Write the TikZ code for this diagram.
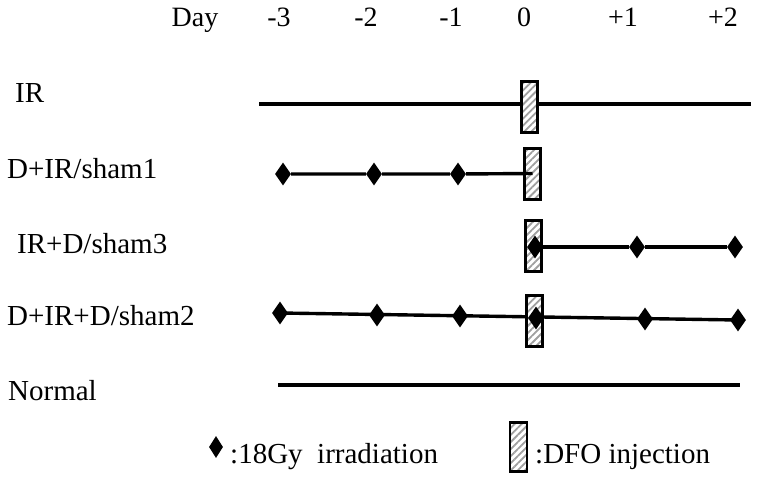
\documentclass[tikz,border=0pt]{standalone}
\usepackage{fontspec}
\setmainfont{Liberation Serif}
\usetikzlibrary{shapes.geometric,patterns.meta}
\tikzset{
  lbl/.style={font=\fontsize{29}{32}\selectfont, inner sep=0pt, anchor=base west},
  day/.style={font=\fontsize{28}{30}\selectfont, inner sep=0pt, anchor=base},
  tl/.style={line width=3.4pt},
  dmd/.style={diamond, fill=black, inner sep=0pt, minimum width=16pt, minimum height=23pt},
  dfo/.style={draw=black, line width=3pt, preaction={fill=white}, pattern={Lines[angle=45,distance=5pt,line width=1.8pt]}, pattern color=gray!75, minimum width=16pt, minimum height=51pt, inner sep=0pt},
}
\begin{document}
\begin{tikzpicture}[x=1pt,y=-1pt]
\useasboundingbox (0,0) rectangle (758,479);
% day header
\node[day] (hday) at (195,27) {Day};
\node[day] (hm3) at (279,27) {-3};
\node[day] (hm2) at (366,27) {-2};
\node[day] (hm1) at (451,27) {-1};
\node[day] (h0) at (524,27) {0};
\node[day] (hp1) at (623,27) {+1};
\node[day] (hp2) at (723,27) {+2};
% row labels
\node[lbl] (lIR) at (15,102) {IR};
\node[lbl] (lS1) at (7,178) {D+IR/sham1};
\node[lbl] (lS3) at (17,253) {IR+D/sham3};
\node[lbl] (lS2) at (7,325) {D+IR+D/sham2};
\node[lbl] (lN) at (8,400) {Normal};
% row IR
\coordinate (a1) at (259,104);
\coordinate (a2) at (751,104);
\draw[tl] (a1) -- (a2);
\node[dfo] (bIR) at (529.5,107) {};
% row sham1
\node[dfo] (bS1) at (532.5,173.5) {};
\node[dmd] (s1a) at (283,174) {};
\node[dmd] (s1b) at (374,174) {};
\node[dmd] (s1c) at (458,174) {};
\draw[tl] (s1a) -- (s1b) -- (s1c) -- (bS1.center);
% row sham3
\node[dfo] (bS3) at (533,246) {};
\node[dmd] (s3a) at (535,247) {};
\node[dmd] (s3b) at (637,247) {};
\node[dmd] (s3c) at (735,247) {};
\draw[tl] (s3a) -- (s3b) -- (s3c);
% row sham2
\coordinate (s2p) at (280,313);
\coordinate (s2q) at (738,320);
\draw[tl] (s2p) -- (s2q);
\node[dfo] (bS2) at (534,320.5) {};
\node[dmd] (s2a) at (s2p) {};
\node[dmd] (s2b) at (377,315) {};
\node[dmd] (s2c) at (460,316) {};
\node[dmd] (s2d) at (536,318) {};
\node[dmd] (s2e) at (645,319) {};
\node[dmd] (s2f) at (s2q) {};
% row normal
\coordinate (n1) at (278,385);
\coordinate (n2) at (740,385);
\draw[tl] (n1) -- (n2);
% legend
\node[dmd, minimum width=14pt, minimum height=22pt] (legd) at (216,447) {};
\node[lbl] (legt1) at (230,463) {:18Gy\ \ irradiation};
\node[dfo, line width=2.6pt, minimum width=17pt, minimum height=49pt] (legb) at (518.5,447) {};
\node[lbl] (legt2) at (535,463) {:DFO injection};
\end{tikzpicture}
\end{document}
